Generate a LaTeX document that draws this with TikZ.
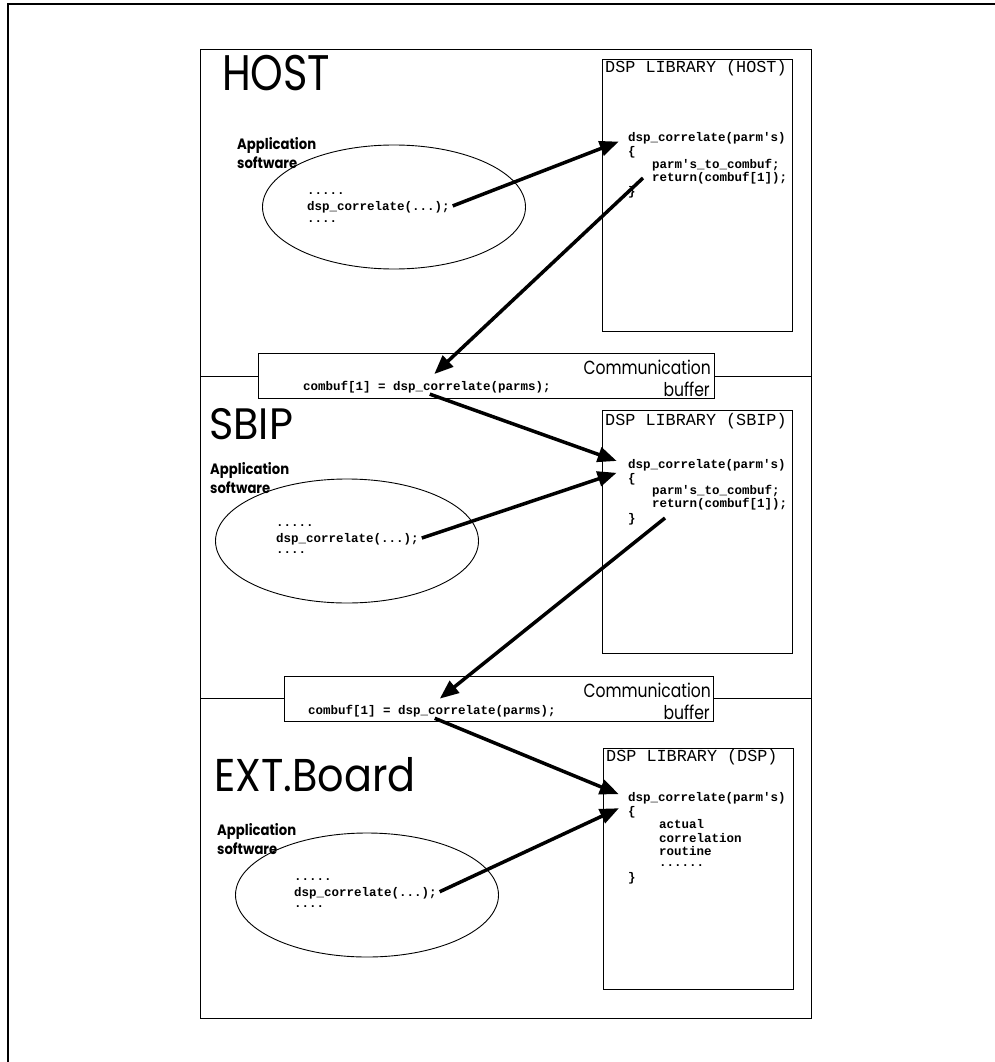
\documentclass[tikz,border=0pt]{standalone}
\usepackage{fontspec}
\usetikzlibrary{shapes.geometric, positioning, arrows.meta}
\newfontfamily\bigsans{Poppins}
\newfontfamily\labelsans[FakeStretch=0.88]{Poppins}
\newfontfamily\smallsans[FakeStretch=0.82]{Poppins}
\newfontfamily\codemono{Liberation Mono}
% size and horizontal squeeze of a layer name
\newcommand{\layertext}[3]{\fontsize{#1}{#1}\selectfont\scalebox{#2}[1]{#3}}
\tikzset{
    x=1pt, y=-1pt, % work on the pixel grid of the scan
    sheet/.style={line width=1.2pt}, % outer page border
    frame/.style={line width=1pt}, % frame round the three layers
    layer/.style={font=\bigsans, anchor=west, inner sep=0pt}, % HOST, SBIP, ...
    applabel/.style={font=\labelsans\bfseries\fontsize{15}{19}\selectfont, align=left, anchor=north west, inner sep=0pt},
    appcloud/.style={ellipse, draw, line width=0.9pt, minimum width=263pt, minimum height=124pt},
    code/.style={font=\codemono\bfseries\fontsize{12.5}{12.5}\selectfont, anchor=west, inner sep=0pt},
    libbox/.style={draw, line width=1.3pt, minimum width=190pt, anchor=north west},
    libtitle/.style={font=\codemono\fontsize{16.8}{16.8}\selectfont, anchor=west, inner sep=0pt},
    bufbox/.style={draw, fill=white, line width=1.1pt, minimum height=45pt, anchor=north west},
    buflabel/.style={font=\smallsans\fontsize{19}{19}\selectfont, anchor=east, inner sep=0pt},
    callarrow/.style={line width=3.5pt, -{Triangle[length=19pt,width=15pt]}, shorten <=3pt}, % fat call arrows
}
\begin{document}
\begin{tikzpicture}
    \useasboundingbox (0,0) rectangle (995,1062);
    % page border and layer frame
    \draw[sheet] (8,1062) -- (8,4) -- (995,4);
    \draw[frame] (200,50) rectangle (811,1018);
    \draw[frame] (200,376) -- (811,376);
    \draw[frame] (200,698) -- (811,698);

    % HOST layer
    \node[layer] (host) at (222,73) {\layertext{50}{0.83}{HOST}};
    \node[applabel] (hostapplabel) at (237,137) {Application\\software};
    \node[appcloud] (hostapp) at (394,207) {};
    \node[code] (hostdots) at (307,194) {.....};
    \node[code] (hostcall) at (307,207) {dsp\_correlate(...);};
    \node[code] (hostdots2) at (307,222) {....};
    \node[libbox, minimum height=272pt] (hostlib) at (602,59) {};
    \node[libtitle] (hosttitle) at (605,68) {DSP LIBRARY (HOST)};
    \node[code] (hostentry) at (628,138) {dsp\_correlate(parm's)};
    \node[code] (hostopen) at (628,152) {\{};
    \node[code] (hostparm) at (652,165) {parm's\_to\_combuf;};
    \node[code] (hostret) at (652,178) {return(combuf[1]);};
    \node[code] (hostclose) at (628,192) {\}};

    % communication buffer HOST <-> SBIP
    \node[bufbox, minimum width=456pt] (buf1) at (258,353) {};
    \node[buflabel] (buf1top) at (711,367) {Communication};
    \node[buflabel] (buf1bot) at (710,389) {buffer};
    \node[code] (bufcode1) at (303,387) {combuf[1] = dsp\_correlate(parms);};

    % SBIP layer
    \node[layer] (sbip) at (209,424) {\layertext{44}{0.94}{SBIP}};
    \node[applabel] (sbipapplabel) at (210,462) {Application\\software};
    \node[appcloud] (sbipapp) at (347,541) {};
    \node[code] (sbipdots) at (276,526) {.....};
    \node[code] (sbipcall) at (276,539) {dsp\_correlate(...);};
    \node[code] (sbipdots2) at (276,553) {....};
    \node[libbox, minimum height=243pt] (sbiplib) at (602,410) {};
    \node[libtitle] (sbiptitle) at (605,421) {DSP LIBRARY (SBIP)};
    \node[code] (sbipentry) at (628,465) {dsp\_correlate(parm's)};
    \node[code] (sbipopen) at (628,479) {\{};
    \node[code] (sbipparm) at (652,491) {parm's\_to\_combuf;};
    \node[code] (sbipret) at (652,504) {return(combuf[1]);};
    \node[code] (sbipclose) at (628,519) {\}};

    % communication buffer SBIP <-> board
    \node[bufbox, minimum width=429pt] (buf2) at (284,676) {};
    \node[buflabel] (buf2top) at (711,690) {Communication};
    \node[buflabel] (buf2bot) at (710,712) {buffer};
    \node[code] (bufcode2) at (308,711) {combuf[1] = dsp\_correlate(parms);};

    % EXT.Board layer
    \node[layer] (board) at (214,775) {\layertext{46}{0.90}{EXT.Board}};
    \node[applabel] (boardapplabel) at (217,823) {Application\\software};
    \node[appcloud] (boardapp) at (367,895) {};
    \node[code] (boarddots) at (294,880) {.....};
    \node[code] (boardcall) at (294,893) {dsp\_correlate(...);};
    \node[code] (boarddots2) at (294,907) {....};
    \node[libbox, minimum height=241pt] (boardlib) at (603,748) {};
    \node[libtitle] (boardtitle) at (606,757) {DSP LIBRARY (DSP)};
    \node[code] (boardentry) at (628,798) {dsp\_correlate(parm's)};
    \node[code] (boardopen) at (628,812) {\{};
    \node[code] (boardact) at (659,824) {actual};
    \node[code] (boardcorr) at (659,838) {correlation};
    \node[code] (boardrout) at (659,851) {routine};
    \node[code] (boarddots3) at (659,866) {......};
    \node[code] (boardclose) at (628,878) {\}};

    % calls and returns
    \draw[callarrow, shorten >=10pt] (hostcall.east) -- (hostentry.west);
    \draw[callarrow, shorten <=0pt, shorten >=10pt] ([xshift=-9pt]hostret.west) -- (bufcode1.north);
    \draw[callarrow, shorten >=12pt] (bufcode1.south) -- (sbipentry.west);
    \draw[callarrow, shorten >=12pt] (sbipcall.east) -- ([yshift=-4pt]sbipentry.west);
    \draw[callarrow, shorten <=0pt, shorten >=10pt] ([xshift=13pt,yshift=-14pt]sbipret.west) -- (bufcode2.north);
    \draw[callarrow, shorten >=10pt] (bufcode2.south) -- (boardentry.west);
    \draw[callarrow, shorten >=10pt] (boardcall.east) -- ([yshift=-6pt]boardentry.west);
\end{tikzpicture}
\end{document}
